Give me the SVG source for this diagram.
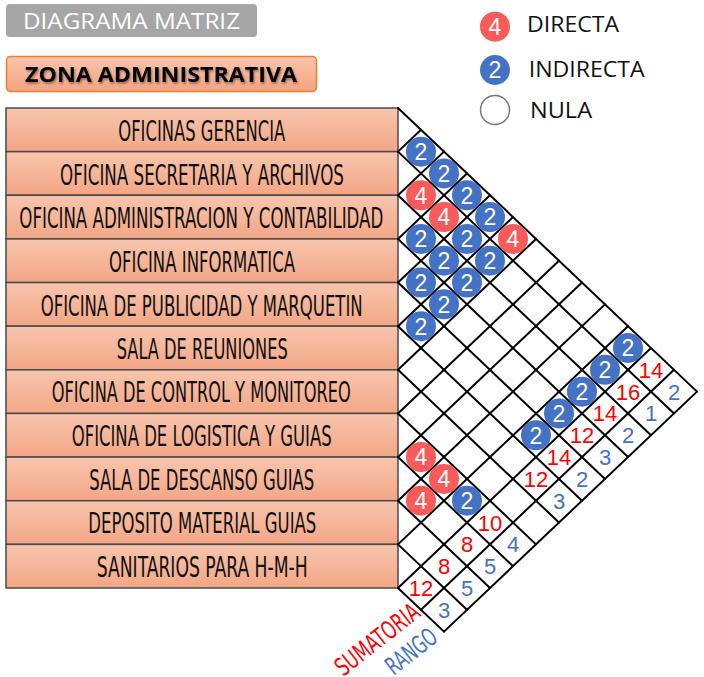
<svg xmlns="http://www.w3.org/2000/svg" width="704" height="677" viewBox="0 0 704 677">
<defs>
<linearGradient id="rowGrad" x1="0" y1="0" x2="0" y2="1">
<stop offset="0" stop-color="#F8C5AE"/>
<stop offset="1" stop-color="#F3A685"/>
</linearGradient>
<linearGradient id="zoneGrad" x1="0" y1="0" x2="0" y2="1">
<stop offset="0" stop-color="#F9C6AE"/>
<stop offset="1" stop-color="#F4A37E"/>
</linearGradient>
<filter id="txtShadow" x="-5%" y="-30%" width="110%" height="160%">
<feDropShadow dx="1" dy="1.5" stdDeviation="1.2" flood-color="#000" flood-opacity="0.45"/>
</filter>
</defs>
<style>
.row{fill:url(#rowGrad);stroke:#4a4a4a;stroke-width:1.5}
.rowtxt{font-family:"DejaVu Sans Condensed","DejaVu Sans",sans-serif;font-size:28px;fill:#111;text-anchor:start}
.grid line{stroke:#000;stroke-width:2;stroke-linecap:round}
.cb{fill:#4472C4}
.cr{fill:#F95B5B}
.cn{font-family:"Liberation Sans",Arial,sans-serif;font-size:23px;fill:#fff;text-anchor:middle}
.sum{font-family:"Liberation Sans",Arial,sans-serif;font-size:22px;fill:#FF0000;text-anchor:middle}
.rng{font-family:"Liberation Sans",Arial,sans-serif;font-size:22px;fill:#4472C4;text-anchor:middle}
.leg{font-family:"Open Sans","Liberation Sans",sans-serif;font-size:22px;fill:#111}
</style>
<rect width="704" height="677" fill="#fff"/>

<g id="title">
<rect x="6" y="4" width="251" height="33" rx="4" fill="#A6A6A6"/>
<text x="23" y="28.5" font-family="'Open Sans','Liberation Sans',sans-serif" font-size="21" fill="#fff" textLength="217" lengthAdjust="spacingAndGlyphs">DIAGRAMA MATRIZ</text>
</g>
<g id="zona">
<rect x="6.5" y="56.5" width="310" height="35" rx="4" fill="url(#zoneGrad)" stroke="#ED7D31" stroke-width="1.5"/>
<text x="25" y="81.7" font-family="'Open Sans','Liberation Sans',sans-serif" font-size="21" font-weight="bold" fill="#000" filter="url(#txtShadow)" textLength="272" lengthAdjust="spacingAndGlyphs">ZONA ADMINISTRATIVA</text>
</g>

<g id="legend">
<circle cx="495" cy="26.7" r="15" class="cr"/>
<text x="495" y="35" class="cn">4</text>
<text x="527" y="31.7" class="leg" textLength="92" lengthAdjust="spacingAndGlyphs">DIRECTA</text>
<circle cx="495" cy="70" r="15" class="cb"/>
<text x="495" y="78.3" class="cn">2</text>
<text x="528.7" y="77.3" class="leg" textLength="116" lengthAdjust="spacingAndGlyphs">INDIRECTA</text>
<circle cx="495" cy="110" r="14.5" fill="#fff" stroke="#777" stroke-width="1.5"/>
<text x="530" y="118.3" class="leg" textLength="62" lengthAdjust="spacingAndGlyphs">NULA</text>
</g>

<g id="rows">
<g id="row0"><rect class="row" x="6" y="108" width="392" height="43.64"/><text class="rowtxt" x="118.3" y="141.2" textLength="167" lengthAdjust="spacingAndGlyphs">OFICINAS GERENCIA</text></g>
<g id="row1"><rect class="row" x="6" y="151.64" width="392" height="43.64"/><text class="rowtxt" x="60" y="184.8" textLength="284" lengthAdjust="spacingAndGlyphs">OFICINA SECRETARIA Y ARCHIVOS</text></g>
<g id="row2"><rect class="row" x="6" y="195.27" width="392" height="43.64"/><text class="rowtxt" x="19.3" y="228.4" textLength="364" lengthAdjust="spacingAndGlyphs">OFICINA ADMINISTRACION Y CONTABILIDAD</text></g>
<g id="row3"><rect class="row" x="6" y="238.91" width="392" height="43.64"/><text class="rowtxt" x="109" y="272.1" textLength="186" lengthAdjust="spacingAndGlyphs">OFICINA INFORMATICA</text></g>
<g id="row4"><rect class="row" x="6" y="282.55" width="392" height="43.64"/><text class="rowtxt" x="40.7" y="315.7" textLength="322" lengthAdjust="spacingAndGlyphs">OFICINA DE PUBLICIDAD Y MARQUETIN</text></g>
<g id="row5"><rect class="row" x="6" y="326.18" width="392" height="43.64"/><text class="rowtxt" x="116.7" y="359.3" textLength="171" lengthAdjust="spacingAndGlyphs">SALA DE REUNIONES</text></g>
<g id="row6"><rect class="row" x="6" y="369.82" width="392" height="43.64"/><text class="rowtxt" x="51.7" y="402.4" textLength="299" lengthAdjust="spacingAndGlyphs">OFICINA DE CONTROL Y MONITOREO</text></g>
<g id="row7"><rect class="row" x="6" y="413.45" width="392" height="43.64"/><text class="rowtxt" x="71.7" y="446.1" textLength="260" lengthAdjust="spacingAndGlyphs">OFICINA DE LOGISTICA Y GUIAS</text></g>
<g id="row8"><rect class="row" x="6" y="457.09" width="392" height="43.64"/><text class="rowtxt" x="89.3" y="489.7" textLength="225" lengthAdjust="spacingAndGlyphs">SALA DE DESCANSO GUIAS</text></g>
<g id="row9"><rect class="row" x="6" y="500.73" width="392" height="43.64"/><text class="rowtxt" x="88.3" y="533.3" textLength="228" lengthAdjust="spacingAndGlyphs">DEPOSITO MATERIAL GUIAS</text></g>
<g id="row10"><rect class="row" x="6" y="544.36" width="392" height="43.64"/><text class="rowtxt" x="96.7" y="577" textLength="211" lengthAdjust="spacingAndGlyphs">SANITARIOS PARA H-M-H</text></g>
</g>

<g id="connectors" class="grid">
<line x1="398" y1="108" x2="697" y2="391.64"/>
<line x1="398" y1="151.64" x2="674" y2="413.45"/>
<line x1="398" y1="195.27" x2="651" y2="435.27"/>
<line x1="398" y1="238.91" x2="628" y2="457.09"/>
<line x1="398" y1="282.55" x2="605" y2="478.91"/>
<line x1="398" y1="326.18" x2="582" y2="500.73"/>
<line x1="398" y1="369.82" x2="559" y2="522.55"/>
<line x1="398" y1="413.45" x2="536" y2="544.36"/>
<line x1="398" y1="457.09" x2="513" y2="566.18"/>
<line x1="398" y1="500.73" x2="490" y2="588"/>
<line x1="398" y1="544.36" x2="467" y2="609.82"/>
<line x1="398" y1="588" x2="444" y2="631.64"/>
<line x1="421" y1="129.82" x2="398" y2="151.64"/>
<line x1="444" y1="151.64" x2="398" y2="195.27"/>
<line x1="467" y1="173.45" x2="398" y2="238.91"/>
<line x1="490" y1="195.27" x2="398" y2="282.55"/>
<line x1="513" y1="217.09" x2="398" y2="326.18"/>
<line x1="536" y1="238.91" x2="398" y2="369.82"/>
<line x1="559" y1="260.73" x2="398" y2="413.45"/>
<line x1="582" y1="282.55" x2="398" y2="457.09"/>
<line x1="605" y1="304.36" x2="398" y2="500.73"/>
<line x1="628" y1="326.18" x2="398" y2="544.36"/>
<line x1="651" y1="348" x2="398" y2="588"/>
<line x1="674" y1="369.82" x2="421" y2="609.82"/>
<line x1="697" y1="391.64" x2="444" y2="631.64"/>
</g>

<g id="relations">
<circle class="cb" cx="421" cy="151.64" r="15"/><text class="cn" x="421" y="160">2</text>
<circle class="cb" cx="444" cy="173.45" r="15"/><text class="cn" x="444" y="181.8">2</text>
<circle class="cb" cx="467" cy="195.27" r="15"/><text class="cn" x="467" y="203.6">2</text>
<circle class="cb" cx="490" cy="217.09" r="15"/><text class="cn" x="490" y="225.4">2</text>
<circle class="cr" cx="513" cy="238.91" r="15"/><text class="cn" x="513" y="247.2">4</text>
<circle class="cr" cx="421" cy="195.27" r="15"/><text class="cn" x="421" y="203.6">4</text>
<circle class="cr" cx="444" cy="217.09" r="15"/><text class="cn" x="444" y="225.4">4</text>
<circle class="cb" cx="467" cy="238.91" r="15"/><text class="cn" x="467" y="247.2">2</text>
<circle class="cb" cx="490" cy="260.73" r="15"/><text class="cn" x="490" y="269">2</text>
<circle class="cb" cx="421" cy="238.91" r="15"/><text class="cn" x="421" y="247.2">2</text>
<circle class="cb" cx="444" cy="260.73" r="15"/><text class="cn" x="444" y="269">2</text>
<circle class="cb" cx="467" cy="282.55" r="15"/><text class="cn" x="467" y="290.9">2</text>
<circle class="cb" cx="421" cy="282.55" r="15"/><text class="cn" x="421" y="290.9">2</text>
<circle class="cb" cx="444" cy="304.36" r="15"/><text class="cn" x="444" y="312.7">2</text>
<circle class="cb" cx="421" cy="326.18" r="15"/><text class="cn" x="421" y="334.5">2</text>
<circle class="cb" cx="628" cy="348" r="15"/><text class="cn" x="628" y="356.3">2</text>
<circle class="cb" cx="605" cy="369.82" r="15"/><text class="cn" x="605" y="378.1">2</text>
<circle class="cb" cx="582" cy="391.64" r="15"/><text class="cn" x="582" y="400">2</text>
<circle class="cb" cx="559" cy="413.45" r="15"/><text class="cn" x="559" y="421.8">2</text>
<circle class="cb" cx="536" cy="435.27" r="15"/><text class="cn" x="536" y="443.6">2</text>
<circle class="cr" cx="421" cy="457.09" r="15"/><text class="cn" x="421" y="465.4">4</text>
<circle class="cr" cx="444" cy="478.91" r="15"/><text class="cn" x="444" y="487.2">4</text>
<circle class="cr" cx="421" cy="500.73" r="15"/><text class="cn" x="421" y="509">4</text>
<circle class="cb" cx="467" cy="500.73" r="15"/><text class="cn" x="467" y="509">2</text>
</g>

<g id="sumatoria">
<text class="sum" x="651" y="377.8">14</text>
<text class="sum" x="628" y="399.6">16</text>
<text class="sum" x="605" y="421.4">14</text>
<text class="sum" x="582" y="443.3">12</text>
<text class="sum" x="559" y="465.1">14</text>
<text class="sum" x="536" y="486.9">12</text>
<text class="sum" x="490" y="530.5">10</text>
<text class="sum" x="467" y="552.4">8</text>
<text class="sum" x="444" y="574.2">8</text>
<text class="sum" x="421" y="596">12</text>
<g transform="translate(377,639) rotate(-38)"><text x="0" y="9" font-family="'DejaVu Sans Condensed','DejaVu Sans',sans-serif" font-size="25" fill="#FF0000" text-anchor="middle" textLength="100" lengthAdjust="spacingAndGlyphs">SUMATORIA</text></g>
</g>

<g id="rango">
<text class="rng" x="674" y="399.6">2</text>
<text class="rng" x="651" y="421.4">1</text>
<text class="rng" x="628" y="443.3">2</text>
<text class="rng" x="605" y="465.1">3</text>
<text class="rng" x="582" y="486.9">2</text>
<text class="rng" x="559" y="508.7">3</text>
<text class="rng" x="513" y="552.4">4</text>
<text class="rng" x="490" y="574.2">5</text>
<text class="rng" x="467" y="596">5</text>
<text class="rng" x="444" y="617.8">3</text>
<g transform="translate(411,651) rotate(-38)"><text x="0" y="9" font-family="'DejaVu Sans Condensed','DejaVu Sans',sans-serif" font-size="25" fill="#4472C4" text-anchor="middle" textLength="58" lengthAdjust="spacingAndGlyphs">RANGO</text></g>
</g>
</svg>
